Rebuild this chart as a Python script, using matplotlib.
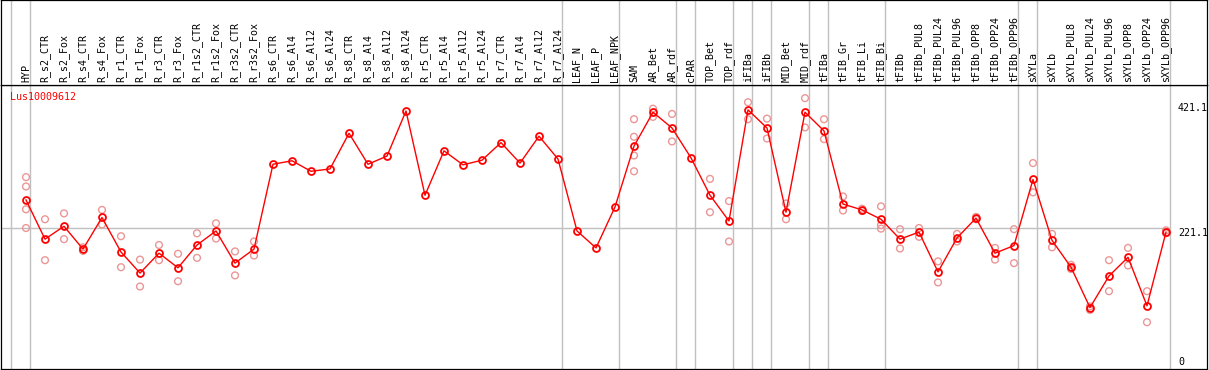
import numpy as np
import matplotlib.pyplot as plt
import matplotlib.transforms as mtransforms

# sample names (one column each)
samples = ["HYP", "R_s2_CTR", "R_s2_Fox", "R_s4_CTR", "R_s4_Fox", "R_r1_CTR", "R_r1_Fox",
           "R_r3_CTR", "R_r3_Fox", "R_r1s2_CTR", "R_r1s2_Fox", "R_r3s2_CTR", "R_r3s2_Fox",
           "R_s6_CTR", "R_s6_Al4", "R_s6_Al12", "R_s6_Al24", "R_s8_CTR", "R_s8_Al4",
           "R_s8_Al12", "R_s8_Al24", "R_r5_CTR", "R_r5_Al4", "R_r5_Al12", "R_r5_Al24",
           "R_r7_CTR", "R_r7_Al4", "R_r7_Al12", "R_r7_Al24", "LEAF_N", "LEAF_P", "LEAF_NPK",
           "SAM", "AR_Bet", "AR_rdf", "cPAR", "TOP_Bet", "TOP_rdf", "iFIBa", "iFIBb",
           "MID_Bet", "MID_rdf", "tFIBa", "tFIB_Gr", "tFIB_Li", "tFIB_Bi", "tFIBb",
           "tFIBb_PUL8", "tFIBb_PUL24", "tFIBb_PUL96", "tFIBb_OPP8", "tFIBb_OPP24",
           "tFIBb_OPP96", "sXYLa", "sXYLb", "sXYLb_PUL8", "sXYLb_PUL24", "sXYLb_PUL96",
           "sXYLb_OPP8", "sXYLb_OPP24", "sXYLb_OPP96"]

# mean expression
means = [269, 202, 224, 185, 239, 180, 144, 178, 153, 192, 216, 161, 185,
         330, 336, 318, 322, 383, 330, 344, 421.1, 277, 353, 329, 337,
         367, 332, 378, 339, 216, 187, 257,
         361, 419, 392, 341, 277, 233, 423, 392, 248, 419, 387,
         262, 252, 236, 202, 214, 146, 204, 238, 178, 191,
         304, 200, 154, 85, 139, 171, 88, 214]

# individual replicates (empty where none shown)
reps = [[308, 292, 253, 221], [236, 166], [246, 202], [188, 182], [252, 227],
        [207, 154], [167, 121], [192, 166], [177, 130], [212, 170], [229, 203],
        [181, 140], [198, 174],
        [], [], [], [], [], [], [], [], [], [], [], [], [], [], [], [], [], [], [],
        [407, 377, 345, 318], [425, 411], [416, 369], [], [305, 248], [267, 198],
        [436, 407], [408, 374], [263, 236], [443, 393], [407, 373],
        [275, 251], [254, 250], [258, 226, 220], [219, 186],
        [221, 206], [164, 128], [211, 198], [240, 236], [187, 167], [219, 161],
        [332, 282], [211, 188], [158, 151], [87, 81], [166, 113], [187, 157],
        [113, 60], [217, 212]]

# group separators (after these column indices)
group_ends = [-1, 0, 28, 31, 34, 35, 37, 38, 39, 41, 42, 45, 52, 53, 60]

y_ticks = [0, 221.1, 421.1]
title = "Lus10009612"

W, H = 1209, 370
fig = plt.figure(figsize=(W / 100, H / 100), dpi=100)
mono = "DejaVu Sans Mono"
fs = 7.2

x = np.arange(len(samples))
xlim = ((1 - 26) / 19, (1207 - 26) / 19)

ax = fig.add_axes([1 / W, 1 / H, 1206 / W, 284 / H])
hdr = fig.add_axes([1 / W, (H - 85) / H, 1206 / W, 85 / H], sharex=ax)

for a in (ax, hdr):
    a.set_xlim(*xlim)
    a.set_xticks([])
    a.set_yticks([])
    for s in a.spines.values():
        s.set_linewidth(0.9)
        s.set_color("black")
    for g in group_ends:
        a.axvline(g + 0.23, color="#c0c0c0", lw=1, zorder=0)

ax.set_ylim(-20, 465.5)
hdr.set_ylim(0, 1)

ax.hlines(221.1, xlim[0], group_ends[-1] + 0.23, color="#c0c0c0", lw=1, zorder=0)

# replicates
rx = [i for i, r in enumerate(reps) for _ in r]
ry = [v for r in reps for v in r]
ax.scatter(rx, ry, s=24, facecolors="none", edgecolors="#eb9696", linewidths=1.0, zorder=2)

# mean line
ax.plot(x, means, color="red", lw=1, marker="o", ms=5, mfc="none", mec="red", mew=1.3, zorder=3)

# column labels
trans = mtransforms.blended_transform_factory(hdr.transData, hdr.transAxes)
for i, name in enumerate(samples):
    hdr.text(i, 0.03, name, rotation=90, ha="center", va="bottom", transform=trans,
             family=mono, fontsize=fs, color="black")

# right-side value labels
lx = (1178 - 26) / 19
for v in y_ticks:
    va = "baseline" if v == max(y_ticks) else "top"
    ax.text(lx, v, f"{v:g}", ha="left", va=va, family=mono, fontsize=fs, color="black")

fig.text(10 / W, 1 - 92 / H, title, ha="left", va="top", family=mono, fontsize=fs, color="red")

fig.savefig("out.png", dpi=100)
